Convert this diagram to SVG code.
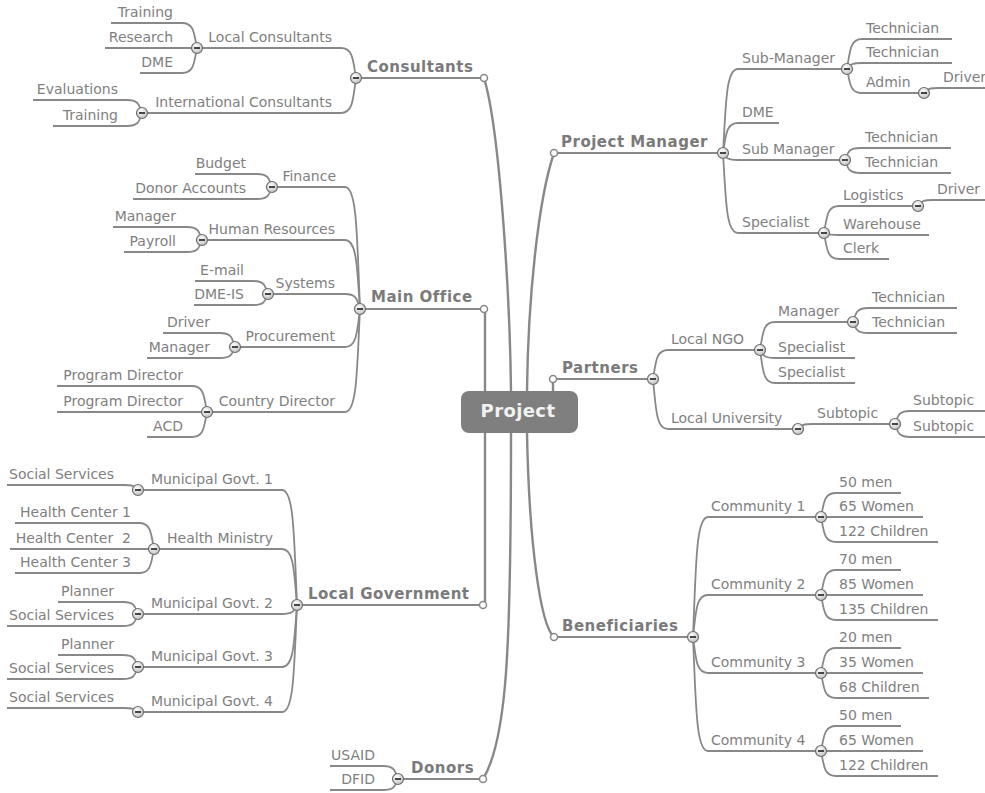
<svg xmlns="http://www.w3.org/2000/svg" xmlns:xlink="http://www.w3.org/1999/xlink" width="985" height="793" viewBox="0 0 985 793">
<style>
text{font-family:"DejaVu Sans",Verdana,sans-serif;font-size:14px;fill:#808080}
.m{font-weight:bold;font-size:15px;letter-spacing:0.5px;fill:#7a7a7a}
.e{text-anchor:end}
.l{fill:none;stroke:#888;stroke-width:1.8;stroke-linecap:round}
.ml{fill:none;stroke:#888;stroke-width:2.4;stroke-linecap:round}
.u{fill:none;stroke:#888;stroke-width:1.8}
.ec{fill:#fff;stroke:#888;stroke-width:1.5}
.ct{font-weight:bold;font-size:18px;letter-spacing:0.4px;fill:#f2f2f2;text-anchor:middle}
</style>
<defs>
<radialGradient id="cg" cx="0.4" cy="0.35" r="0.7">
<stop offset="0" stop-color="#ffffff"/>
<stop offset="1" stop-color="#bdbdbd"/>
</radialGradient>
<g id="col">
<circle r="5.5" fill="url(#cg)" stroke="#6e6e6e" stroke-width="1.2"/>
<line x1="-3" y1="0" x2="3" y2="0" stroke="#333" stroke-width="1.8"/>
</g>
</defs>
<rect width="985" height="793" fill="#fff"/>

<g id="connectors">
<!-- main branches -->
<path class="ml" d="M511,391 C510,300 500,130 484,78"/>
<path class="ml" d="M485,391 V312.5"/>
<path class="ml" d="M485,433 V601.5"/>
<path class="ml" d="M511,433 C511,650 507,740 483,779"/>
<path class="ml" d="M527,391 C528,300 538,200 554,153"/>
<path class="ml" d="M553,391 V382.5"/>
<path class="ml" d="M527,433 C529,540 540,625 554,637"/>

<!-- Project Manager -->
<path class="l" d="M723,153 C726,102.6 726,69 738,69"/>
<path class="l" d="M723,153 C726,135 726,123 738,123"/>
<path class="l" d="M723,153 C726,157.2 726,160 738,160"/>
<path class="l" d="M723,153 C726,201 726,233 738,233"/>
<path class="l" d="M847,69 C850,51 850,39 862,39"/>
<path class="l" d="M847,69 C850,65.4 850,63 862,63"/>
<path class="l" d="M847,69 C850,83.4 850,93 862,93"/>
<path class="l" d="M924,93 C927,90 927,88 939,88"/>
<path class="l" d="M845,160 C848,152.8 848,148 860,148"/>
<path class="l" d="M845,160 C848,167.8 848,173 860,173"/>
<path class="l" d="M824,233 C827,216.8 827,206 839,206"/>
<path class="l" d="M918,206 C921,202.4 921,200 933,200"/>
<path class="l" d="M824,233 C827,234.2 827,235 839,235"/>
<path class="l" d="M824,233 C827,248.6 827,259 839,259"/>

<!-- Partners -->
<path class="l" d="M653,379 C656,361.6 656,350 668,350"/>
<path class="l" d="M653,379 C656,409 656,429 668,429"/>
<path class="l" d="M798,429 C801,426 801,424 813,424"/>
<path class="l" d="M895,424 C898,416.2 898,411 910,411"/>
<path class="l" d="M895,424 C898,431.8 898,437 910,437"/>
<path class="l" d="M760,350 C763,333.2 763,322 775,322"/>
<path class="l" d="M853,322 C856,313.6 856,308 868,308"/>
<path class="l" d="M853,322 C856,328.6 856,333 868,333"/>
<path class="l" d="M760,350 C763,354.8 763,358 775,358"/>
<path class="l" d="M760,350 C763,369.8 763,383 775,383"/>

<!-- Beneficiaries -->
<path class="l" d="M693,637 C696,565 696,517 708,517"/>
<path class="l" d="M693,637 C696,611.8 696,595 708,595"/>
<path class="l" d="M693,637 C696,658.6 696,673 708,673"/>
<path class="l" d="M693,637 C696,705.4 696,751 708,751"/>
<path class="l" d="M821,517 C824,502.6 824,493 836,493"/>
<path class="l" d="M821,517 H836"/>
<path class="l" d="M821,517 C824,532 824,542 836,542"/>
<path class="l" d="M821,595 C824,580.6 824,570 836,570"/>
<path class="l" d="M821,595 H836"/>
<path class="l" d="M821,595 C824,610 824,620 836,620"/>
<path class="l" d="M821,673 C824,658.6 824,648 836,648"/>
<path class="l" d="M821,673 H836"/>
<path class="l" d="M821,673 C824,688 824,698 836,698"/>
<path class="l" d="M821,751 C824,736.6 824,726 836,726"/>
<path class="l" d="M821,751 H836"/>
<path class="l" d="M821,751 C824,766 824,776 836,776"/>

<!-- Consultants -->
<path class="l" d="M356,78 C353,60 353,48 341,48"/>
<path class="l" d="M356,78 C353,99 353,113 341,113"/>
<path class="l" d="M197,48 C194,33 194,23 182,23"/>
<path class="l" d="M197,48 H182"/>
<path class="l" d="M197,48 C194,63 194,73 182,73"/>
<path class="l" d="M142,113 C139,105.2 139,100 127,100"/>
<path class="l" d="M142,113 C139,120.8 139,126 127,126"/>

<!-- Main Office -->
<path class="l" d="M360,309 C357,235.8 357,187 345,187"/>
<path class="l" d="M360,309 C357,267.6 357,240 345,240"/>
<path class="l" d="M360,309 C357,300 357,294 345,294"/>
<path class="l" d="M360,309 C357,331.8 357,347 345,347"/>
<path class="l" d="M360,309 C357,370.8 357,412 345,412"/>
<path class="l" d="M272,187 C269,179.2 269,174 257,174"/>
<path class="l" d="M272,187 C269,194.2 269,199 257,199"/>
<path class="l" d="M202,240 C199,232.2 199,227 187,227"/>
<path class="l" d="M202,240 C199,247.2 199,252 187,252"/>
<path class="l" d="M268,294 C265,286.2 265,281 253,281"/>
<path class="l" d="M268,294 C265,300.6 265,305 253,305"/>
<path class="l" d="M235,347 C232,338.6 232,333 220,333"/>
<path class="l" d="M235,347 C232,353.6 232,358 220,358"/>
<path class="l" d="M207,412 C204,396.4 204,386 192,386"/>
<path class="l" d="M207,412 H192"/>
<path class="l" d="M207,412 C204,427 204,437 192,437"/>

<!-- Local Government -->
<path class="l" d="M297,605 C294,536 294,490 282,490"/>
<path class="l" d="M297,605 C294,571.4 294,549 282,549"/>
<path class="l" d="M297,605 C294,610.4 294,614 282,614"/>
<path class="l" d="M297,605 C294,642.2 294,667 282,667"/>
<path class="l" d="M297,605 C294,669.2 294,712 282,712"/>
<path class="l" d="M138,490 C135,487 135,485 123,485"/>
<path class="l" d="M154,549 C151,533.4 151,523 139,523"/>
<path class="l" d="M154,549 H139"/>
<path class="l" d="M154,549 C151,563.4 151,573 139,573"/>
<path class="l" d="M138,614 C135,606.8 135,602 123,602"/>
<path class="l" d="M138,614 C135,621.2 135,626 123,626"/>
<path class="l" d="M138,667 C135,659.8 135,655 123,655"/>
<path class="l" d="M138,667 C135,674.2 135,679 123,679"/>
<path class="l" d="M138,712 C135,709.6 135,708 123,708"/>

<!-- Donors -->
<path class="l" d="M398,779 C395,771.2 395,766 383,766"/>
<path class="l" d="M398,779 C395,785.6 395,790 383,790"/>
</g>

<!-- central topic -->
<g id="project">
<rect x="461" y="391" width="117" height="42" rx="8" fill="#7f7f7f"/>
<text class="ct" x="518" y="417">Project</text>
</g>

<!-- ===== Project Manager ===== -->
<g id="project-manager">
<path class="u" d="M553,153 H723"/>
<circle class="ec" cx="554" cy="153" r="3.5"/>
<use xlink:href="#col" x="723" y="153"/>
<text class="m" x="561" y="147">Project Manager</text>
</g>
<g id="pm-sub-manager">
<path class="u" d="M738,69 H847"/>
<use xlink:href="#col" x="847" y="69"/>
<text x="742" y="63">Sub-Manager</text>
</g>
<g id="pm-sm-tech1"><path class="u" d="M862,39 H952"/><text x="866" y="33">Technician</text></g>
<g id="pm-sm-tech2"><path class="u" d="M862,63 H952"/><text x="866" y="57">Technician</text></g>
<g id="pm-sm-admin">
<path class="u" d="M862,93 H924"/>
<use xlink:href="#col" x="924" y="93"/>
<text x="866" y="87">Admin</text>
</g>
<g id="pm-sm-admin-driver"><path class="u" d="M939,88 H985"/><text x="943" y="82">Driver</text></g>
<g id="pm-dme"><path class="u" d="M738,123 H779"/><text x="742" y="117">DME</text></g>
<g id="pm-sub-manager2">
<path class="u" d="M738,160 H845"/>
<use xlink:href="#col" x="845" y="160"/>
<text x="742" y="154">Sub Manager</text>
</g>
<g id="pm-sm2-tech1"><path class="u" d="M860,148 H951"/><text x="865" y="142">Technician</text></g>
<g id="pm-sm2-tech2"><path class="u" d="M860,173 H951"/><text x="865" y="167">Technician</text></g>
<g id="pm-specialist">
<path class="u" d="M738,233 H824"/>
<use xlink:href="#col" x="824" y="233"/>
<text x="742" y="227">Specialist</text>
</g>
<g id="pm-sp-logistics">
<path class="u" d="M839,206 H918"/>
<use xlink:href="#col" x="918" y="206"/>
<text x="843" y="200">Logistics</text>
</g>
<g id="pm-sp-log-driver"><path class="u" d="M933,200 H985"/><text x="937" y="194">Driver</text></g>
<g id="pm-sp-warehouse"><path class="u" d="M839,235 H929"/><text x="843" y="229">Warehouse</text></g>
<g id="pm-sp-clerk"><path class="u" d="M839,259 H889"/><text x="843" y="253">Clerk</text></g>

<!-- ===== Partners ===== -->
<g id="partners">
<path class="u" d="M553,379 H653"/>
<circle class="ec" cx="553" cy="379" r="3.5"/>
<use xlink:href="#col" x="653" y="379"/>
<text class="m" x="562" y="373">Partners</text>
</g>
<g id="pa-local-ngo">
<path class="u" d="M668,350 H760"/>
<use xlink:href="#col" x="760" y="350"/>
<text x="671" y="344">Local NGO</text>
</g>
<g id="pa-ngo-manager">
<path class="u" d="M775,322 H853"/>
<use xlink:href="#col" x="853" y="322"/>
<text x="778" y="316">Manager</text>
</g>
<g id="pa-ngo-mgr-tech1"><path class="u" d="M868,308 H957"/><text x="872" y="302">Technician</text></g>
<g id="pa-ngo-mgr-tech2"><path class="u" d="M868,333 H957"/><text x="872" y="327">Technician</text></g>
<g id="pa-ngo-spec1"><path class="u" d="M775,358 H855"/><text x="778" y="352">Specialist</text></g>
<g id="pa-ngo-spec2"><path class="u" d="M775,383 H855"/><text x="778" y="377">Specialist</text></g>
<g id="pa-local-university">
<path class="u" d="M668,429 H798"/>
<use xlink:href="#col" x="798" y="429"/>
<text x="671" y="423">Local University</text>
</g>
<g id="pa-uni-subtopic">
<path class="u" d="M813,424 H895"/>
<use xlink:href="#col" x="895" y="424"/>
<text x="817" y="418">Subtopic</text>
</g>
<g id="pa-uni-sub-1"><path class="u" d="M910,411 H985"/><text x="913" y="405">Subtopic</text></g>
<g id="pa-uni-sub-2"><path class="u" d="M910,437 H985"/><text x="913" y="431">Subtopic</text></g>

<!-- ===== Beneficiaries ===== -->
<g id="beneficiaries">
<path class="u" d="M553,637 H693"/>
<circle class="ec" cx="554" cy="637" r="3.5"/>
<use xlink:href="#col" x="693" y="637"/>
<text class="m" x="562" y="631">Beneficiaries</text>
</g>
<g id="be-community1">
<path class="u" d="M708,517 H821"/>
<use xlink:href="#col" x="821" y="517"/>
<text x="711" y="511">Community 1</text>
</g>
<g id="be-c1-men"><path class="u" d="M836,493 H901"/><text x="839" y="487">50 men</text></g>
<g id="be-c1-women"><path class="u" d="M836,517 H923"/><text x="839" y="511">65 Women</text></g>
<g id="be-c1-children"><path class="u" d="M836,542 H938"/><text x="839" y="536">122 Children</text></g>
<g id="be-community2">
<path class="u" d="M708,595 H821"/>
<use xlink:href="#col" x="821" y="595"/>
<text x="711" y="589">Community 2</text>
</g>
<g id="be-c2-men"><path class="u" d="M836,570 H901"/><text x="839" y="564">70 men</text></g>
<g id="be-c2-women"><path class="u" d="M836,595 H923"/><text x="839" y="589">85 Women</text></g>
<g id="be-c2-children"><path class="u" d="M836,620 H938"/><text x="839" y="614">135 Children</text></g>
<g id="be-community3">
<path class="u" d="M708,673 H821"/>
<use xlink:href="#col" x="821" y="673"/>
<text x="711" y="667">Community 3</text>
</g>
<g id="be-c3-men"><path class="u" d="M836,648 H901"/><text x="839" y="642">20 men</text></g>
<g id="be-c3-women"><path class="u" d="M836,673 H923"/><text x="839" y="667">35 Women</text></g>
<g id="be-c3-children"><path class="u" d="M836,698 H929"/><text x="839" y="692">68 Children</text></g>
<g id="be-community4">
<path class="u" d="M708,751 H821"/>
<use xlink:href="#col" x="821" y="751"/>
<text x="711" y="745">Community 4</text>
</g>
<g id="be-c4-men"><path class="u" d="M836,726 H901"/><text x="839" y="720">50 men</text></g>
<g id="be-c4-women"><path class="u" d="M836,751 H923"/><text x="839" y="745">65 Women</text></g>
<g id="be-c4-children"><path class="u" d="M836,776 H938"/><text x="839" y="770">122 Children</text></g>

<!-- ===== Consultants ===== -->
<g id="consultants">
<path class="u" d="M356,78 H484"/>
<circle class="ec" cx="484" cy="78" r="3.5"/>
<use xlink:href="#col" x="356" y="78"/>
<text class="m" x="367" y="72">Consultants</text>
</g>
<g id="co-local">
<path class="u" d="M197,48 H341"/>
<use xlink:href="#col" x="197" y="48"/>
<text class="e" x="332" y="42">Local Consultants</text>
</g>
<g id="co-local-training"><path class="u" d="M111,23 H182"/><text class="e" x="173" y="17">Training</text></g>
<g id="co-local-research"><path class="u" d="M105,48 H182"/><text class="e" x="173" y="42">Research</text></g>
<g id="co-local-dme"><path class="u" d="M140,73 H182"/><text class="e" x="173" y="67">DME</text></g>
<g id="co-international">
<path class="u" d="M142,113 H341"/>
<use xlink:href="#col" x="142" y="113"/>
<text class="e" x="332" y="107">International Consultants</text>
</g>
<g id="co-int-evaluations"><path class="u" d="M33,100 H127"/><text class="e" x="118" y="94">Evaluations</text></g>
<g id="co-int-training"><path class="u" d="M53,126 H127"/><text class="e" x="118" y="120">Training</text></g>

<!-- ===== Main Office ===== -->
<g id="main-office">
<path class="u" d="M360,309 H484"/>
<circle class="ec" cx="484" cy="309" r="3.5"/>
<use xlink:href="#col" x="360" y="309"/>
<text class="m" x="371" y="302">Main Office</text>
</g>
<g id="mo-finance">
<path class="u" d="M272,187 H345"/>
<use xlink:href="#col" x="272" y="187"/>
<text class="e" x="336" y="181">Finance</text>
</g>
<g id="mo-fin-budget"><path class="u" d="M195,174 H257"/><text class="e" x="246" y="168">Budget</text></g>
<g id="mo-fin-donor"><path class="u" d="M133,199 H257"/><text class="e" x="246" y="193">Donor Accounts</text></g>
<g id="mo-hr">
<path class="u" d="M202,240 H345"/>
<use xlink:href="#col" x="202" y="240"/>
<text class="e" x="335" y="234">Human Resources</text>
</g>
<g id="mo-hr-manager"><path class="u" d="M113,227 H187"/><text class="e" x="176" y="221">Manager</text></g>
<g id="mo-hr-payroll"><path class="u" d="M124,252 H187"/><text class="e" x="176" y="246">Payroll</text></g>
<g id="mo-systems">
<path class="u" d="M268,294 H345"/>
<use xlink:href="#col" x="268" y="294"/>
<text class="e" x="335" y="288">Systems</text>
</g>
<g id="mo-sys-email"><path class="u" d="M195,281 H253"/><text class="e" x="244" y="275">E-mail</text></g>
<g id="mo-sys-dmeis"><path class="u" d="M194,305 H253"/><text class="e" x="244" y="299">DME-IS</text></g>
<g id="mo-procurement">
<path class="u" d="M235,347 H345"/>
<use xlink:href="#col" x="235" y="347"/>
<text class="e" x="335" y="341">Procurement</text>
</g>
<g id="mo-proc-driver"><path class="u" d="M163,333 H220"/><text class="e" x="210" y="327">Driver</text></g>
<g id="mo-proc-manager"><path class="u" d="M147,358 H220"/><text class="e" x="210" y="352">Manager</text></g>
<g id="mo-country-director">
<path class="u" d="M207,412 H345"/>
<use xlink:href="#col" x="207" y="412"/>
<text class="e" x="335" y="406">Country Director</text>
</g>
<g id="mo-cd-pd1"><path class="u" d="M57,386 H192"/><text class="e" x="183" y="380">Program Director</text></g>
<g id="mo-cd-pd2"><path class="u" d="M57,412 H192"/><text class="e" x="183" y="406">Program Director</text></g>
<g id="mo-cd-acd"><path class="u" d="M147,437 H192"/><text class="e" x="183" y="431">ACD</text></g>

<!-- ===== Local Government ===== -->
<g id="local-government">
<path class="u" d="M297,605 H483"/>
<circle class="ec" cx="483" cy="605" r="3.5"/>
<use xlink:href="#col" x="297" y="605"/>
<text class="m" x="308" y="599">Local Government</text>
</g>
<g id="lg-mun1">
<path class="u" d="M138,490 H282"/>
<use xlink:href="#col" x="138" y="490"/>
<text class="e" x="273" y="484">Municipal Govt. 1</text>
</g>
<g id="lg-mun1-ss"><path class="u" d="M7,485 H123"/><text class="e" x="114" y="479">Social Services</text></g>
<g id="lg-health">
<path class="u" d="M154,549 H282"/>
<use xlink:href="#col" x="154" y="549"/>
<text class="e" x="273" y="543">Health Ministry</text>
</g>
<g id="lg-hc1"><path class="u" d="M15,523 H139"/><text class="e" x="131" y="517">Health Center 1</text></g>
<g id="lg-hc2"><path class="u" d="M10,549 H139"/><text class="e" x="131" y="543" xml:space="preserve" style="white-space:pre">Health Center  2</text></g>
<g id="lg-hc3"><path class="u" d="M15,573 H139"/><text class="e" x="131" y="567">Health Center 3</text></g>
<g id="lg-mun2">
<path class="u" d="M138,614 H282"/>
<use xlink:href="#col" x="138" y="614"/>
<text class="e" x="273" y="608">Municipal Govt. 2</text>
</g>
<g id="lg-mun2-planner"><path class="u" d="M58,602 H123"/><text class="e" x="114" y="596">Planner</text></g>
<g id="lg-mun2-ss"><path class="u" d="M7,626 H123"/><text class="e" x="114" y="620">Social Services</text></g>
<g id="lg-mun3">
<path class="u" d="M138,667 H282"/>
<use xlink:href="#col" x="138" y="667"/>
<text class="e" x="273" y="661">Municipal Govt. 3</text>
</g>
<g id="lg-mun3-planner"><path class="u" d="M58,655 H123"/><text class="e" x="114" y="649">Planner</text></g>
<g id="lg-mun3-ss"><path class="u" d="M7,679 H123"/><text class="e" x="114" y="673">Social Services</text></g>
<g id="lg-mun4">
<path class="u" d="M138,712 H282"/>
<use xlink:href="#col" x="138" y="712"/>
<text class="e" x="273" y="706">Municipal Govt. 4</text>
</g>
<g id="lg-mun4-ss"><path class="u" d="M7,708 H123"/><text class="e" x="114" y="702">Social Services</text></g>

<!-- ===== Donors ===== -->
<g id="donors">
<path class="u" d="M398,779 H483"/>
<circle class="ec" cx="483" cy="779" r="3.5"/>
<use xlink:href="#col" x="398" y="779"/>
<text class="m" x="411" y="773">Donors</text>
</g>
<g id="do-usaid"><path class="u" d="M330,766 H383"/><text class="e" x="375" y="760">USAID</text></g>
<g id="do-dfid"><path class="u" d="M330,790 H383"/><text class="e" x="375" y="784">DFID</text></g>
</svg>
